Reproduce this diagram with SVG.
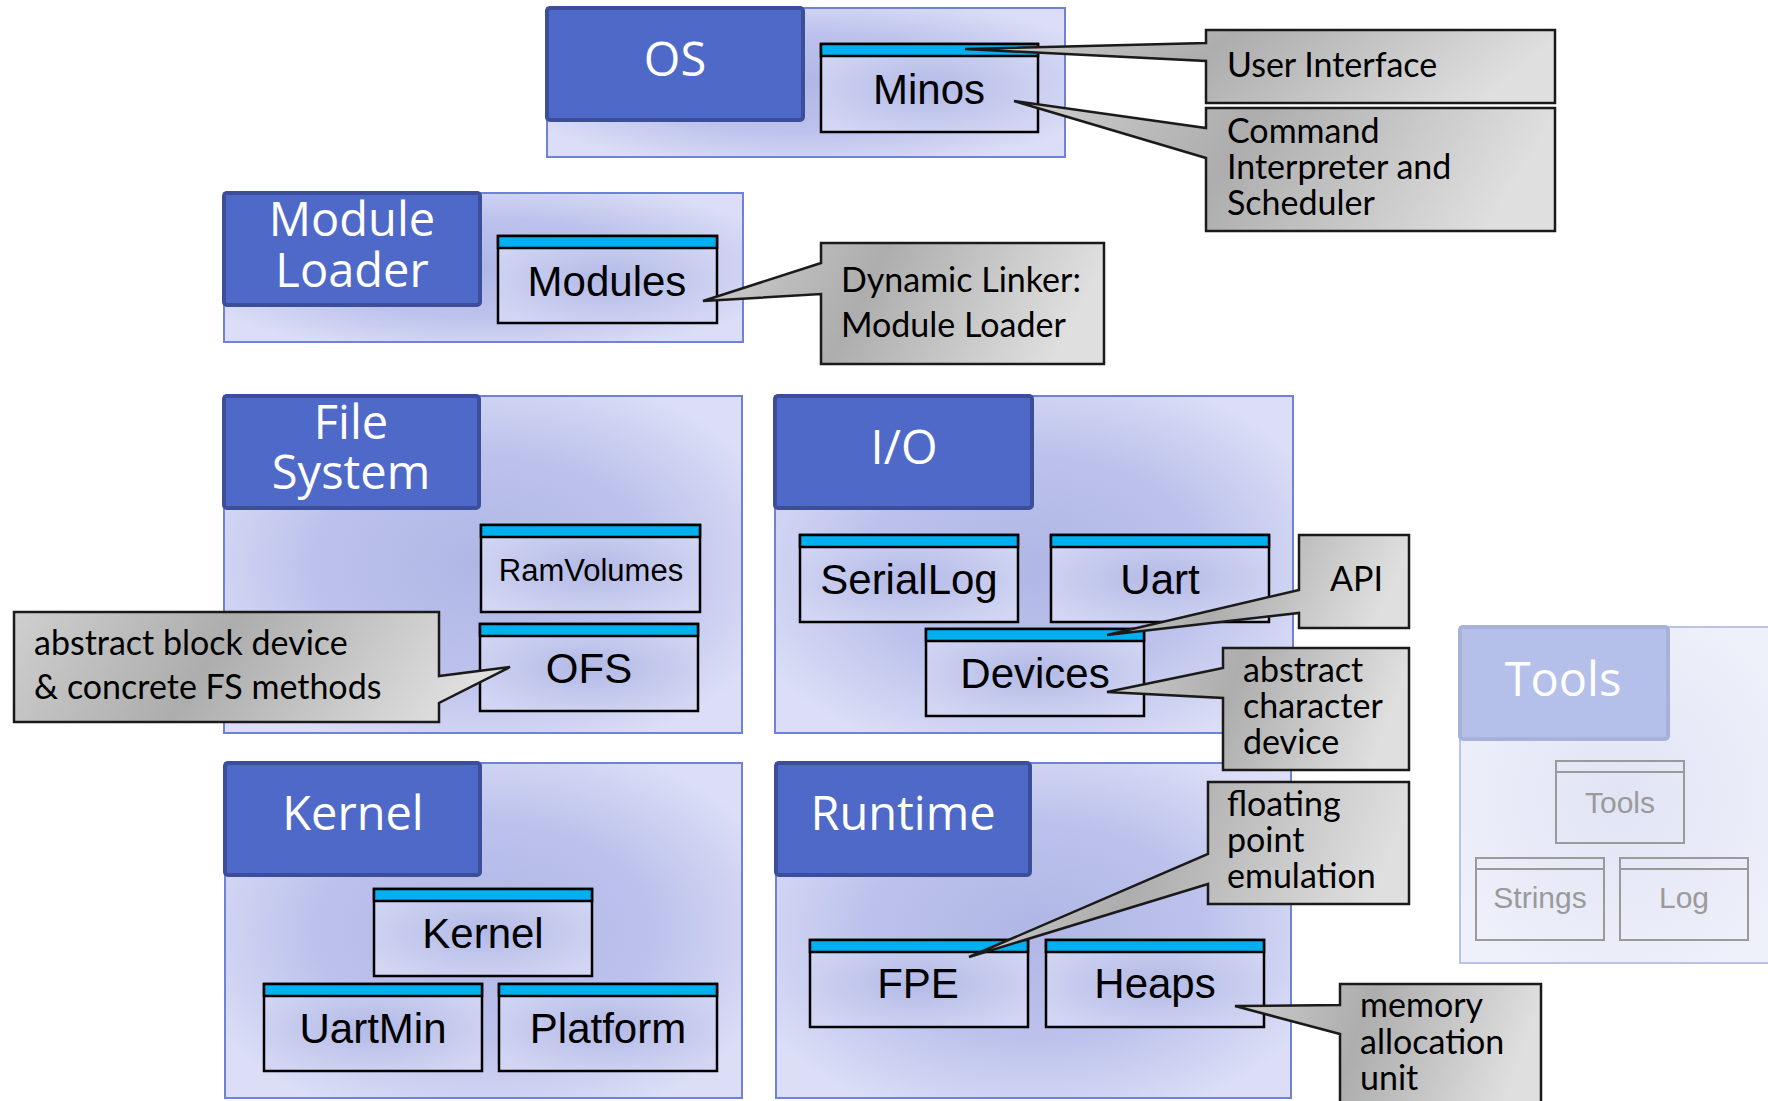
<svg xmlns="http://www.w3.org/2000/svg" width="1768" height="1101" viewBox="0 0 1768 1101">
<defs>
<radialGradient id="gOuter" cx="0.5" cy="0.5" r="0.6">
<stop offset="0" stop-color="#B1B7E5"/>
<stop offset="0.55" stop-color="#BCC2EC"/>
<stop offset="1" stop-color="#DBDEF6"/>
</radialGradient>
<radialGradient id="gComp" cx="0.5" cy="0.5" r="0.6">
<stop offset="0" stop-color="#B3B9E6"/>
<stop offset="1" stop-color="#D2D6F3"/>
</radialGradient>
<radialGradient id="gTools" cx="0.5" cy="0.5" r="0.6">
<stop offset="0" stop-color="#E1E4F5"/>
<stop offset="1" stop-color="#EEF0FA"/>
</radialGradient>
<linearGradient id="gCall" x1="0" y1="0" x2="1" y2="0.15">
<stop offset="0" stop-color="#CFCFCF"/>
<stop offset="0.45" stop-color="#ADADAD"/>
<stop offset="1" stop-color="#DFDFDF"/>
</linearGradient>
</defs>
<style>
.outer{fill:url(#gOuter);stroke:#6E82D8;stroke-width:2}
.hdr{fill:#4F69C9;stroke:#3C4E99;stroke-width:4}
.hdrT{font-family:"Open Sans",sans-serif;font-size:47px;fill:#FFFFFF;text-anchor:middle}
.comp{fill:url(#gComp);stroke:#000;stroke-width:2.5}
.bar{fill:#00B0F0;stroke:#000;stroke-width:2.5}
.compT{font-family:"Liberation Sans",Arial,sans-serif;font-size:42px;fill:#000;text-anchor:middle}
.call{fill:url(#gCall);stroke:#1A1A1A;stroke-width:2.5;stroke-linejoin:miter}
.callT{font-family:Lato,"Open Sans",sans-serif;font-size:34px;fill:#000}
.tOuter{fill:url(#gTools);stroke:#B8C3EC;stroke-width:2}
.tHdr{fill:#B4C0EA;stroke:#A8B2D8;stroke-width:4}
.tComp{fill:none;stroke:#9A9A9A;stroke-width:2}
.tCompT{font-family:"Liberation Sans",Arial,sans-serif;font-size:30px;fill:#9A9A9A;text-anchor:middle}
</style>
<rect width="1768" height="1101" fill="#FFFFFF"/>

<!-- OS package -->
<g id="pkg-os">
<rect class="outer" x="547" y="8" width="518" height="149"/>
<rect class="hdr" x="547" y="8" width="256" height="112" rx="3"/>
<text class="hdrT" x="675" y="76">OS</text>
</g>
<g id="comp-minos">
<rect class="comp" x="821" y="44" width="217" height="88"/>
<rect class="bar" x="821" y="44" width="217" height="12"/>
<text class="compT" x="929" y="104">Minos</text>
</g>

<!-- Module Loader package -->
<g id="pkg-moduleloader">
<rect class="outer" x="224" y="193" width="519" height="149"/>
<rect class="hdr" x="224" y="193" width="256" height="112" rx="3"/>
<text class="hdrT" x="352" y="236">Module</text>
<text class="hdrT" x="352" y="287">Loader</text>
</g>
<g id="comp-modules">
<rect class="comp" x="498" y="236" width="219" height="87"/>
<rect class="bar" x="498" y="236" width="219" height="12"/>
<text class="compT" x="607" y="296">Modules</text>
</g>

<!-- File System package -->
<g id="pkg-filesystem">
<rect class="outer" x="224" y="396" width="518" height="337"/>
<rect class="hdr" x="224" y="396" width="255" height="112" rx="3"/>
<text class="hdrT" x="351" y="439">File</text>
<text class="hdrT" x="351" y="489">System</text>
</g>
<g id="comp-ramvolumes">
<rect class="comp" x="481" y="525" width="219" height="87"/>
<rect class="bar" x="481" y="525" width="219" height="12"/>
<text class="compT" x="591" y="581" style="font-size:31px">RamVolumes</text>
</g>
<g id="comp-ofs">
<rect class="comp" x="480" y="624" width="218" height="87"/>
<rect class="bar" x="480" y="624" width="218" height="12"/>
<text class="compT" x="589" y="683">OFS</text>
</g>

<!-- I/O package -->
<g id="pkg-io">
<rect class="outer" x="775" y="396" width="518" height="337"/>
<rect class="hdr" x="775" y="396" width="257" height="112" rx="3"/>
<text class="hdrT" x="904" y="464">I/O</text>
</g>
<g id="comp-seriallog">
<rect class="comp" x="800" y="535" width="218" height="87"/>
<rect class="bar" x="800" y="535" width="218" height="12"/>
<text class="compT" x="909" y="594">SerialLog</text>
</g>
<g id="comp-uart">
<rect class="comp" x="1051" y="535" width="218" height="87"/>
<rect class="bar" x="1051" y="535" width="218" height="12"/>
<text class="compT" x="1160" y="594">Uart</text>
</g>
<g id="comp-devices">
<rect class="comp" x="926" y="629" width="218" height="87"/>
<rect class="bar" x="926" y="629" width="218" height="12"/>
<text class="compT" x="1035" y="688">Devices</text>
</g>

<!-- Kernel package -->
<g id="pkg-kernel">
<rect class="outer" x="225" y="763" width="517" height="335"/>
<rect class="hdr" x="225" y="763" width="255" height="112" rx="3"/>
<text class="hdrT" x="353" y="830">Kernel</text>
</g>
<g id="comp-kernel">
<rect class="comp" x="374" y="889" width="218" height="87"/>
<rect class="bar" x="374" y="889" width="218" height="12"/>
<text class="compT" x="483" y="948">Kernel</text>
</g>
<g id="comp-uartmin">
<rect class="comp" x="264" y="984" width="218" height="87"/>
<rect class="bar" x="264" y="984" width="218" height="12"/>
<text class="compT" x="373" y="1043">UartMin</text>
</g>
<g id="comp-platform">
<rect class="comp" x="499" y="984" width="218" height="87"/>
<rect class="bar" x="499" y="984" width="218" height="12"/>
<text class="compT" x="608" y="1043">Platform</text>
</g>

<!-- Runtime package -->
<g id="pkg-runtime">
<rect class="outer" x="776" y="763" width="515" height="335"/>
<rect class="hdr" x="776" y="763" width="254" height="112" rx="3"/>
<text class="hdrT" x="903" y="830">Runtime</text>
</g>
<g id="comp-fpe">
<rect class="comp" x="810" y="940" width="218" height="87"/>
<rect class="bar" x="810" y="940" width="218" height="12"/>
<text class="compT" x="918" y="998">FPE</text>
</g>
<g id="comp-heaps">
<rect class="comp" x="1046" y="940" width="218" height="87"/>
<rect class="bar" x="1046" y="940" width="218" height="12"/>
<text class="compT" x="1155" y="998">Heaps</text>
</g>

<!-- Tools package (faded) -->
<g id="pkg-tools">
<rect class="tOuter" x="1460" y="627" width="320" height="336"/>
<rect class="tHdr" x="1460" y="627" width="208" height="112" rx="3"/>
<text class="hdrT" x="1563" y="696">Tools</text>
</g>
<g id="comp-tools">
<rect class="tComp" x="1556" y="761" width="128" height="82"/>
<line class="tComp" x1="1556" y1="772" x2="1684" y2="772"/>
<text class="tCompT" x="1620" y="813">Tools</text>
</g>
<g id="comp-strings">
<rect class="tComp" x="1476" y="858" width="128" height="82"/>
<line class="tComp" x1="1476" y1="869" x2="1604" y2="869"/>
<text class="tCompT" x="1540" y="908">Strings</text>
</g>
<g id="comp-log">
<rect class="tComp" x="1620" y="858" width="128" height="82"/>
<line class="tComp" x1="1620" y1="869" x2="1748" y2="869"/>
<text class="tCompT" x="1684" y="908">Log</text>
</g>

<!-- Callouts (box + pointer wedge) -->
<g id="connectors">
<g id="callout-ui">
<path class="call" d="M1206,30 H1555 V103 H1206 V61 L965,49 L1206,43 Z"/>
<text class="callT" x="1227" y="77">User Interface</text>
</g>
<g id="callout-cmd">
<path class="call" d="M1206,108 H1555 V231 H1206 V158 L1014,101 L1206,128 Z"/>
<text class="callT" x="1227" y="143">Command</text>
<text class="callT" x="1227" y="179">Interpreter and</text>
<text class="callT" x="1227" y="215">Scheduler</text>
</g>
<g id="callout-dyn">
<path class="call" d="M821,243 H1104 V364 H821 V294 L703,301 L821,263 Z"/>
<text class="callT" x="841" y="292">Dynamic Linker:</text>
<text class="callT" x="841" y="337">Module Loader</text>
</g>
<g id="callout-block">
<path class="call" d="M14,612 H439 V676 L510,667 L439,703 V722 H14 Z"/>
<text class="callT" x="34" y="655">abstract block device</text>
<text class="callT" x="34" y="699">&amp; concrete FS methods</text>
</g>
<g id="callout-api">
<path class="call" d="M1299,535 H1409 V628 H1299 V613 L1107,635 L1299,590 Z"/>
<text class="callT" x="1330" y="591">API</text>
</g>
<g id="callout-chardev">
<path class="call" d="M1223,648 H1409 V770 H1223 V698 L1107,692 L1223,668 Z"/>
<text class="callT" x="1243" y="682">abstract</text>
<text class="callT" x="1243" y="718">character</text>
<text class="callT" x="1243" y="754">device</text>
</g>
<g id="callout-fpe">
<path class="call" d="M1208,782 H1409 V904 H1208 V884 L969,957 L1208,854 Z"/>
<text class="callT" x="1227" y="816">floating</text>
<text class="callT" x="1227" y="852">point</text>
<text class="callT" x="1227" y="888">emulation</text>
</g>
<g id="callout-mem">
<path class="call" d="M1340,984 H1541 V1112 H1340 V1034 L1235,1006 L1340,1005 Z"/>
<text class="callT" x="1360" y="1017">memory</text>
<text class="callT" x="1360" y="1054">allocation</text>
<text class="callT" x="1360" y="1090">unit</text>
</g>
</g>
</svg>
